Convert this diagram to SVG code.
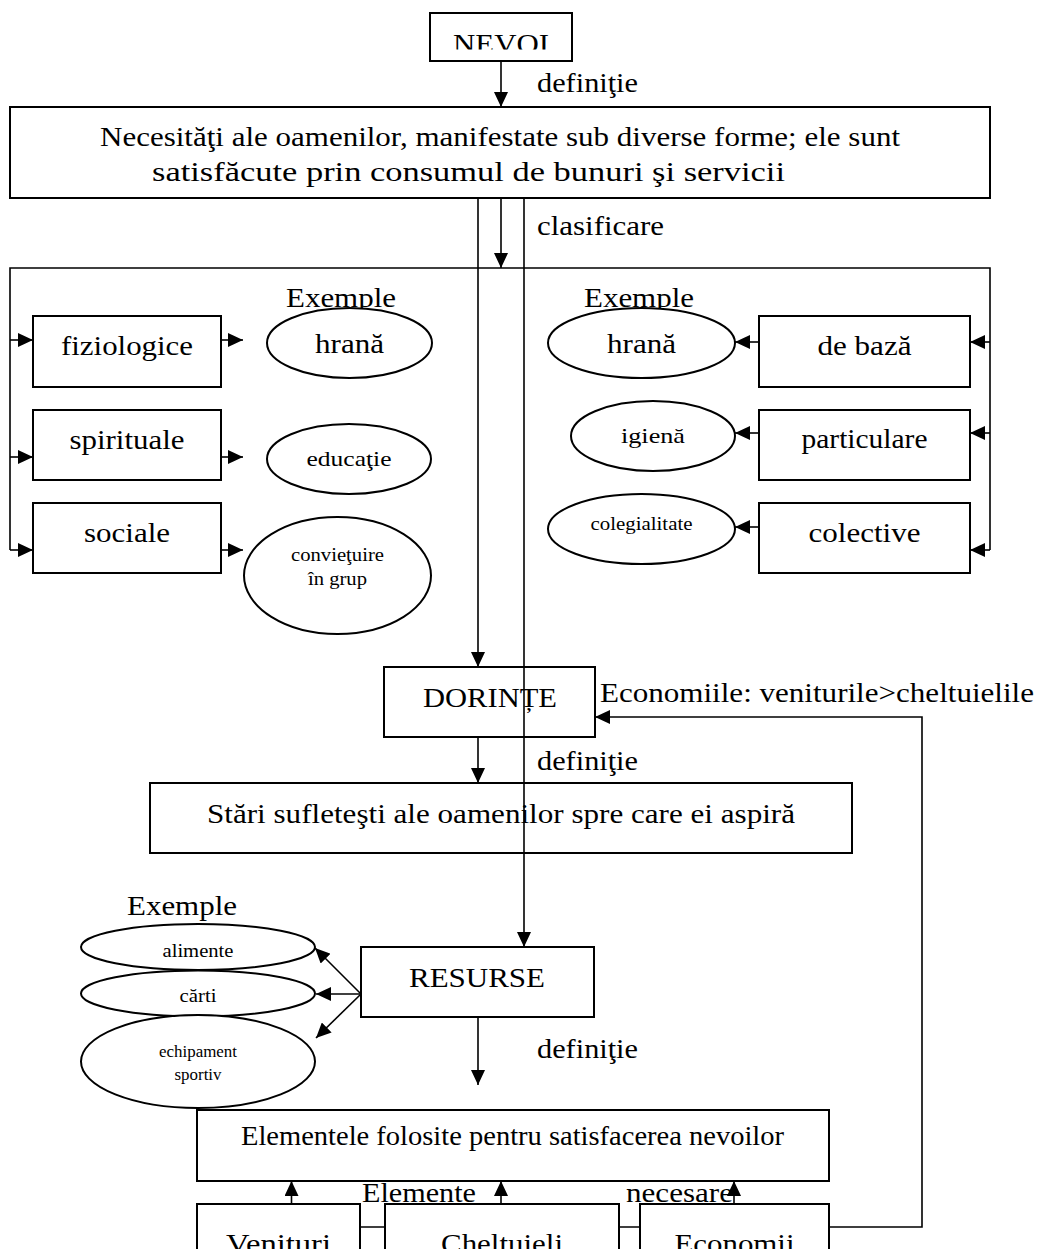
<svg xmlns="http://www.w3.org/2000/svg" width="1038" height="1249" viewBox="0 0 1038 1249">
<defs>
<style>
.b{fill:#fff;stroke:#000;stroke-width:2}
.c{fill:none;stroke:#000;stroke-width:1.6}
.a{marker-end:url(#ar)}
text{font-family:"Liberation Serif","Times New Roman",serif;fill:#000;font-size:28px}
.m{text-anchor:middle}
.s{font-size:22px}
.x{font-size:18px}
.y{font-size:16px}
</style>
<marker id="ar" markerUnits="userSpaceOnUse" markerWidth="16" markerHeight="14" refX="15" refY="7" orient="auto"><path d="M0,0L15,7L0,14z"/></marker>
<clipPath id="cn"><rect x="430" y="13" width="142" height="36.5"/></clipPath>
</defs>
<rect width="1038" height="1249" fill="#fff"/>
<g id="labels">
<text x="537" y="92" textLength="101" lengthAdjust="spacingAndGlyphs">definiţie</text>
<text x="537" y="235" textLength="127" lengthAdjust="spacingAndGlyphs">clasificare</text>
<text x="286" y="307" textLength="110" lengthAdjust="spacingAndGlyphs">Exemple</text>
<text x="584" y="307" textLength="110" lengthAdjust="spacingAndGlyphs">Exemple</text>
<text x="600" y="702" textLength="434" lengthAdjust="spacingAndGlyphs">Economiile: veniturile&gt;cheltuielile</text>
<text x="537" y="770" textLength="101" lengthAdjust="spacingAndGlyphs">definiţie</text>
<text x="127" y="915" textLength="110" lengthAdjust="spacingAndGlyphs">Exemple</text>
<text x="537" y="1058" textLength="101" lengthAdjust="spacingAndGlyphs">definiţie</text>
<text x="362" y="1202" textLength="114" lengthAdjust="spacingAndGlyphs">Elemente</text>
<text x="626" y="1202" textLength="107" lengthAdjust="spacingAndGlyphs">necesare</text>
</g>
<g id="nevoi"><rect class="b" x="430" y="13" width="142" height="48"/><text class="m" x="501" y="53" textLength="96" lengthAdjust="spacingAndGlyphs" clip-path="url(#cn)">NEVOI</text></g>
<g id="def-nevoi"><rect class="b" x="10" y="107" width="980" height="91"/>
<text x="100" y="146" textLength="800" lengthAdjust="spacingAndGlyphs">Necesităţi ale oamenilor, manifestate sub diverse forme; ele sunt</text>
<text x="152" y="181" textLength="633" lengthAdjust="spacingAndGlyphs">satisfăcute prin consumul de bunuri şi servicii</text></g>
<g id="fiziologice"><rect class="b" x="33" y="316" width="188" height="71"/><text class="m" x="127" y="355" textLength="132" lengthAdjust="spacingAndGlyphs">fiziologice</text></g>
<g id="hrana-1"><ellipse class="b" cx="349.5" cy="343" rx="82.5" ry="35"/><text class="m" x="349.5" y="353" textLength="69" lengthAdjust="spacingAndGlyphs">hrană</text></g>
<g id="spirituale"><rect class="b" x="33" y="410" width="188" height="70"/><text class="m" x="127" y="449" textLength="115" lengthAdjust="spacingAndGlyphs">spirituale</text></g>
<g id="educatie"><ellipse class="b" cx="349" cy="459" rx="82" ry="35"/><text class="m s" x="349" y="466" textLength="85" lengthAdjust="spacingAndGlyphs">educaţie</text></g>
<g id="sociale"><rect class="b" x="33" y="503" width="188" height="70"/><text class="m" x="127" y="542" textLength="86" lengthAdjust="spacingAndGlyphs">sociale</text></g>
<g id="convietuire"><ellipse class="b" cx="337.5" cy="575.5" rx="93.5" ry="58.5"/><text class="m x" x="337.5" y="561" textLength="93" lengthAdjust="spacingAndGlyphs">convieţuire</text><text class="m x" x="337.5" y="585" textLength="59" lengthAdjust="spacingAndGlyphs">în grup</text></g>
<g id="hrana-2"><ellipse class="b" cx="641.5" cy="343" rx="93.5" ry="35"/><text class="m" x="641.5" y="353" textLength="69" lengthAdjust="spacingAndGlyphs">hrană</text></g>
<g id="de-baza"><rect class="b" x="759" y="316" width="211" height="71"/><text class="m" x="864.5" y="355" textLength="94" lengthAdjust="spacingAndGlyphs">de bază</text></g>
<g id="igiena"><ellipse class="b" cx="653" cy="436" rx="82" ry="35"/><text class="m s" x="653" y="443" textLength="64" lengthAdjust="spacingAndGlyphs">igienă</text></g>
<g id="particulare"><rect class="b" x="759" y="410" width="211" height="70"/><text class="m" x="864.5" y="448" textLength="126" lengthAdjust="spacingAndGlyphs">particulare</text></g>
<g id="colegialitate"><ellipse class="b" cx="641.5" cy="529" rx="93.5" ry="35"/><text class="m x" x="641.5" y="530" textLength="102" lengthAdjust="spacingAndGlyphs">colegialitate</text></g>
<g id="colective"><rect class="b" x="759" y="503" width="211" height="70"/><text class="m" x="864.5" y="542" textLength="112" lengthAdjust="spacingAndGlyphs">colective</text></g>
<g id="dorinte"><rect class="b" x="384" y="667" width="211" height="70"/><text class="m" x="490" y="707" textLength="134" lengthAdjust="spacingAndGlyphs">DORINȚE</text></g>
<g id="def-dorinte"><rect class="b" x="150" y="783" width="702" height="70"/><text x="207" y="823" textLength="588" lengthAdjust="spacingAndGlyphs">Stări sufleteşti ale oamenilor spre care ei aspiră</text></g>
<g id="alimente"><ellipse class="b" cx="198" cy="947" rx="117" ry="23"/><text class="m x" x="198" y="957" textLength="71" lengthAdjust="spacingAndGlyphs">alimente</text></g>
<g id="carti"><ellipse class="b" cx="198" cy="993.5" rx="117" ry="23"/><text class="m x" x="198" y="1002" textLength="37" lengthAdjust="spacingAndGlyphs">cărti</text></g>
<g id="echipament"><ellipse class="b" cx="198" cy="1061.5" rx="117" ry="46.5"/><text class="m y" x="198" y="1057" textLength="78" lengthAdjust="spacingAndGlyphs">echipament</text><text class="m y" x="198" y="1080" textLength="47" lengthAdjust="spacingAndGlyphs">sportiv</text></g>
<g id="resurse"><rect class="b" x="361" y="947" width="233" height="70"/><text class="m" x="477" y="987" textLength="136" lengthAdjust="spacingAndGlyphs">RESURSE</text></g>
<g id="def-resurse"><rect class="b" x="197" y="1110" width="632" height="71"/><text x="241" y="1145" textLength="543" lengthAdjust="spacingAndGlyphs">Elementele folosite pentru satisfacerea nevoilor</text></g>
<g id="venituri"><rect class="b" x="197" y="1204" width="163" height="60"/><text class="m" x="278.5" y="1253" textLength="105" lengthAdjust="spacingAndGlyphs">Venituri</text></g>
<g id="cheltuieli"><rect class="b" x="385" y="1204" width="234" height="60"/><text class="m" x="502" y="1253" textLength="122" lengthAdjust="spacingAndGlyphs">Cheltuieli</text></g>
<g id="economii"><rect class="b" x="640" y="1204" width="189" height="60"/><text class="m" x="734.5" y="1253" textLength="120" lengthAdjust="spacingAndGlyphs">Economii</text></g>
<g id="connectors">
<path class="c a" d="M501,61V107"/>
<path class="c a" d="M478,198V667"/>
<path class="c a" d="M501,198V268"/>
<path class="c a" d="M524,198V947"/>
<path class="c" d="M10,550V268H990V550"/>
<path class="c a" d="M10,340H33"/>
<path class="c a" d="M10,457H33"/>
<path class="c a" d="M10,550H33"/>
<path class="c a" d="M990,342H970"/>
<path class="c a" d="M990,433H970"/>
<path class="c a" d="M990,550H970"/>
<path class="c a" d="M221,340H243"/>
<path class="c a" d="M221,457H243"/>
<path class="c a" d="M221,550H243"/>
<path class="c a" d="M759,342H735"/>
<path class="c a" d="M759,433H735"/>
<path class="c a" d="M759,527H735"/>
<path class="c a" d="M478,737V783"/>
<path class="c a" d="M361,994L315,948"/>
<path class="c a" d="M361,994H316"/>
<path class="c a" d="M361,994L316,1038"/>
<path class="c a" d="M478,1017V1085"/>
<path class="c a" d="M291.5,1204V1181"/>
<path class="c a" d="M501,1204V1181"/>
<path class="c a" d="M734,1204V1181"/>
<path class="c" d="M360,1227H385M619,1227H640"/>
<path class="c a" d="M829,1227H922V717H595"/>
</g>
</svg>
